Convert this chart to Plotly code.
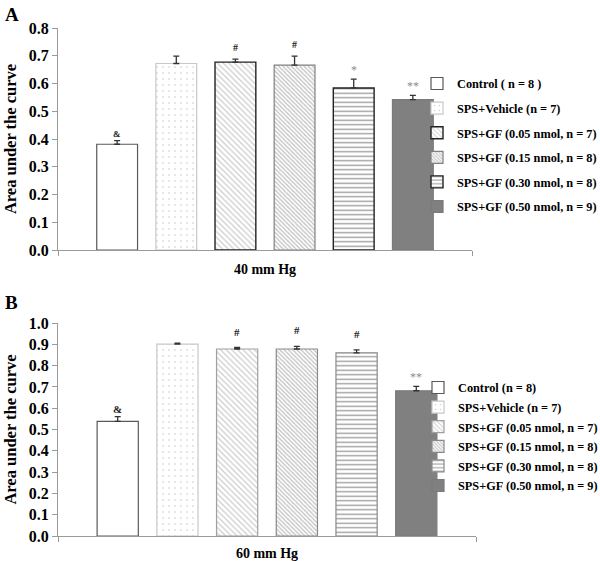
import plotly.graph_objects as go

groups = ["Control ( n = 8 )", "SPS+Vehicle (n = 7)", "SPS+GF (0.05 nmol, n = 7)",
          "SPS+GF (0.15 nmol, n = 8)", "SPS+GF (0.30 nmol, n = 8)", "SPS+GF (0.50 nmol, n = 9)"]
groups_b = ["Control (n = 8)", "SPS+Vehicle (n = 7)", "SPS+GF (0.05 nmol, n = 7)",
            "SPS+GF (0.15 nmol, n = 8)", "SPS+GF (0.30 nmol, n = 8)", "SPS+GF (0.50 nmol, n = 9)"]
vals_a = [0.381, 0.672, 0.677, 0.666, 0.584, 0.542]
err_a = [0.013, 0.027, 0.011, 0.033, 0.032, 0.015]
marks_a = ["&", "", "#", "#", "*", "**"]
vals_b = [0.538, 0.901, 0.878, 0.878, 0.860, 0.682]
err_b = [0.022, 0.004, 0.007, 0.012, 0.014, 0.020]
marks_b = ["&", "", "#", "#", "#", "**"]
title_a = "40 mm Hg"
title_b = "60 mm Hg"
ytitle = "Area under the curve"

FONT = "Liberation Serif"
W, H = 600, 561
ML = 5  # left margin (px) so the y titles sit a little off the edge


def dx(px):
    return (px - ML) / (W - ML)


def dy(px):
    return 1 - px / H


styles = [
    dict(color="white", line=dict(color="#595959", width=1.2)),
    dict(color="white", line=dict(color="#c8c8c8", width=1.2),
         pattern=dict(shape=".", fgcolor="#8f8f8f", bgcolor="white", size=6, solidity=0.06)),
    dict(color="white", line=dict(color="#222222", width=1.4),
         pattern=dict(shape="\\", fgcolor="#9a9a9a", bgcolor="white", size=4, solidity=0.3)),
    dict(color="white", line=dict(color="#808080", width=1.2),
         pattern=dict(shape="\\", fgcolor="#8a8a8a", bgcolor="white", size=3, solidity=0.45)),
    dict(color="white", line=dict(color="#222222", width=1.4),
         pattern=dict(shape="-", fgcolor="#3a3a3a", bgcolor="white", size=4.5, solidity=0.3)),
    dict(color="#808080", line=dict(color="#7a7a7a", width=1.2)),
]
styles_b_line = ["#595959", "#c8c8c8", "#a0a0a0", "#8a8a8a", "#8a8a8a", "#7a7a7a"]

fig = go.Figure()
xpos = list(range(6))
for i in range(6):
    fig.add_trace(go.Bar(
        x=[xpos[i]], y=[vals_a[i]], name=groups[i], width=0.69,
        marker=styles[i], legend="legend", legendgroup="a%d" % i,
        error_y=dict(type="data", symmetric=False, array=[err_a[i]], arrayminus=[0],
                     color="#333333", thickness=1.3, width=3),
        xaxis="x", yaxis="y"))
for i in range(6):
    st = dict(styles[i])
    st["line"] = dict(color=styles_b_line[i], width=1.2)
    fig.add_trace(go.Bar(
        x=[xpos[i]], y=[vals_b[i]], name=groups_b[i], width=0.69,
        marker=st, legend="legend2", legendgroup="b%d" % i,
        error_y=dict(type="data", symmetric=False, array=[err_b[i]], arrayminus=[0],
                     color="#333333", thickness=1.3, width=3),
        xaxis="x2", yaxis="y2"))


def mark_font(m, size):
    star = "*" in m
    return dict(family=FONT, size=12 if star else size,
                color="#8c8c8c" if star else "#222222",
                weight="normal" if star else "bold")


def mark_shift(m, panel):
    if "*" in m or m == "&":
        return 0
    return 4 if panel == "a" else 8


annotations = []
for i in range(6):
    if marks_a[i]:
        annotations.append(dict(x=xpos[i], y=vals_a[i] + err_a[i], xref="x", yref="y",
                                text=marks_a[i], showarrow=False, yanchor="bottom",
                                yshift=mark_shift(marks_a[i], "a"),
                                font=mark_font(marks_a[i], 9 if marks_a[i] == "&" else 10)))
    if marks_b[i]:
        annotations.append(dict(x=xpos[i], y=vals_b[i] + err_b[i], xref="x2", yref="y2",
                                text=marks_b[i], showarrow=False, yanchor="bottom",
                                yshift=mark_shift(marks_b[i], "b"),
                                font=mark_font(marks_b[i], 11)))
annotations.append(dict(x=dx(3), y=dy(15), xref="paper", yref="paper", text="A",
                        showarrow=False, xanchor="left", yanchor="middle",
                        font=dict(family=FONT, size=19, color="black", weight="bold")))
annotations.append(dict(x=dx(3), y=dy(302), xref="paper", yref="paper", text="B",
                        showarrow=False, xanchor="left", yanchor="middle",
                        font=dict(family=FONT, size=19, color="black", weight="bold")))


def yax(domain, rng, dt):
    return dict(domain=domain, range=rng, dtick=dt, tick0=0, tickformat=".1f",
                showline=True, linecolor="#9a9a9a", linewidth=1, ticks="outside",
                ticklen=5, tickcolor="#9a9a9a", showgrid=False, zeroline=False,
                automargin=False,
                tickfont=dict(family=FONT, size=16, color="black", weight="bold"),
                title=dict(text=ytitle, standoff=8,
                           font=dict(family=FONT, size=16.5, color="black", weight="bold")))


def xax(domain, anchor, title):
    return dict(domain=domain, range=[-1, 6], anchor=anchor, showline=True,
                linecolor="#9a9a9a", linewidth=1, tickvals=[-1, 6], ticks="outside",
                ticklen=5, tickcolor="#9a9a9a", showticklabels=False, showgrid=False,
                zeroline=False, automargin=False,
                title=dict(text=title, standoff=9,
                           font=dict(family=FONT, size=14, color="black", weight="bold")))


fig.update_layout(
    width=W, height=H, margin=dict(l=ML, r=0, t=0, b=0, autoexpand=False),
    paper_bgcolor="white", plot_bgcolor="white",
    barmode="overlay", showlegend=True,
    xaxis=xax([dx(58), dx(472)], "y", title_a),
    yaxis=yax([dy(250), dy(28)], [0, 0.8], 0.1),
    xaxis2=xax([dx(58), dx(476)], "y2", title_b),
    yaxis2=yax([dy(536), dy(323)], [0, 1.0], 0.1),
    legend=dict(x=417 / W, y=dy(69), xanchor="left", yanchor="top",
                xref="container", yref="container",
                bgcolor="rgba(0,0,0,0)", traceorder="grouped", tracegroupgap=5.6,
                itemclick=False,
                font=dict(family=FONT, size=12.3, color="black", weight="bold")),
    legend2=dict(x=418 / W, y=dy(373), xanchor="left", yanchor="top",
                 xref="container", yref="container",
                 bgcolor="rgba(0,0,0,0)", traceorder="grouped", tracegroupgap=0.6,
                 itemclick=False,
                 font=dict(family=FONT, size=12.3, color="black", weight="bold")),
    annotations=annotations,
)

fig.write_html("out.html", config={"displayModeBar": False},
               post_script="document.body.style.margin='0';")
